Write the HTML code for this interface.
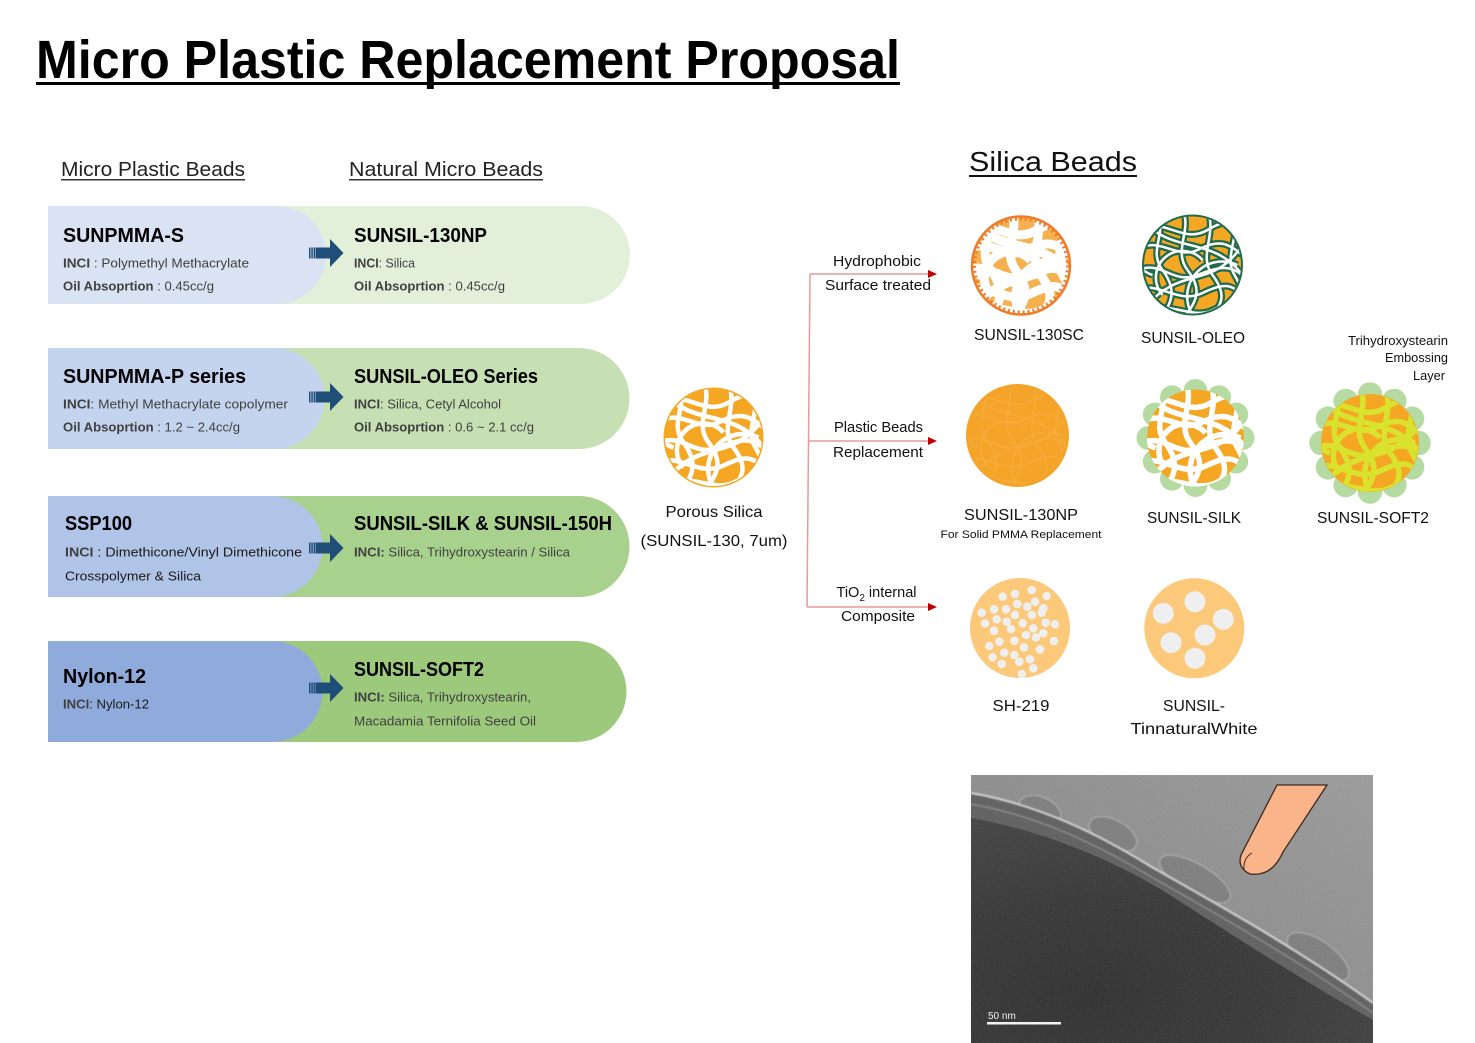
<!DOCTYPE html>
<html><head><meta charset="utf-8">
<style>
html,body{margin:0;padding:0;background:#fff;}
svg{display:block;}
text{font-family:"Liberation Sans",sans-serif;}
</style></head>
<body>
<svg width="1475" height="1043" viewBox="0 0 1475 1043" xmlns="http://www.w3.org/2000/svg">
<defs>
  <g id="net">
    <path d="M-55,-35 C-30,-50 -10,-20 15,-35 S45,-40 55,-25"/>
    <path d="M-55,-15 C-35,-30 -15,-5 5,-15 S35,-25 55,-5"/>
    <path d="M-55,5 C-30,-5 -20,20 5,10 S40,0 55,15"/>
    <path d="M-55,25 C-35,15 -15,40 10,28 S40,20 55,35"/>
    <path d="M-50,45 C-25,35 0,55 20,45 S45,40 55,50"/>
    <path d="M-35,-55 C-25,-30 -45,-15 -30,5 S-20,40 -35,55"/>
    <path d="M-10,-55 C0,-35 -20,-15 -5,5 S5,35 -10,55"/>
    <path d="M15,-55 C25,-30 5,-10 20,10 S30,40 15,55"/>
    <path d="M40,-55 C50,-30 30,-10 42,10 S50,40 38,55"/>
    <path d="M-50,-45 C-20,-10 20,-30 50,10"/>
    <path d="M-45,40 C-10,0 20,25 50,-20"/>
    <path d="M-20,-50 A30,30 0 0 0 -40,10"/>
    <path d="M0,50 A35,35 0 0 1 45,0"/>
    <path d="M-30,30 A22,22 0 0 1 10,-5"/>
  </g>
  <clipPath id="cc"><circle cx="0" cy="0" r="48.5"/></clipPath>
  <g id="arr" fill="#1f4e79">
    <rect x="0" y="-5.5" width="1.5" height="11"/>
    <rect x="2.3" y="-5.5" width="1.5" height="11"/>
    <rect x="4.6" y="-5.5" width="1.5" height="11"/>
    <rect x="6.6" y="-5.5" width="14.5" height="11"/>
    <polygon points="21,-14 34.5,0 21,14"/>
  </g>
  <g id="bumps" fill="#b5dba2">
    <circle cx="47" cy="0" r="12"/><circle cx="40.7" cy="23.5" r="12"/><circle cx="23.5" cy="40.7" r="12"/>
    <circle cx="0" cy="47" r="12"/><circle cx="-23.5" cy="40.7" r="12"/><circle cx="-40.7" cy="23.5" r="12"/>
    <circle cx="-47" cy="0" r="12"/><circle cx="-40.7" cy="-23.5" r="12"/><circle cx="-23.5" cy="-40.7" r="12"/>
    <circle cx="0" cy="-47" r="12"/><circle cx="23.5" cy="-40.7" r="12"/><circle cx="40.7" cy="-23.5" r="12"/>
  </g>
  <linearGradient id="temBg" x1="1" y1="0" x2="0" y2="1">
    <stop offset="0" stop-color="#939393"/><stop offset="1" stop-color="#777"/>
  </linearGradient>
  <radialGradient id="temDark" cx="0.3" cy="0.8" r="0.8">
    <stop offset="0" stop-color="#232323"/><stop offset="0.6" stop-color="#2c2c2c"/><stop offset="1" stop-color="#363636"/>
  </radialGradient>
  <filter id="noise" x="0" y="0" width="1" height="1">
    <feTurbulence type="fractalNoise" baseFrequency="0.9" numOctaves="1" result="n"/>
    <feColorMatrix type="matrix" values="0 0 0 0 1  0 0 0 0 1  0 0 0 0 1  0 0 0 0.18 0"/>
  </filter>
  <filter id="soft"><feGaussianBlur stdDeviation="0.8"/></filter>
  <clipPath id="temClip"><rect x="971" y="775" width="402" height="268"/></clipPath>
</defs>

<!-- Title -->
<text x="36" y="78" font-size="54" font-weight="bold" textLength="864" lengthAdjust="spacingAndGlyphs">Micro Plastic Replacement Proposal</text>
<rect x="36" y="82" width="864" height="3" fill="#000"/>

<!-- column headers -->
<text x="61" y="176" font-size="20" fill="#222" textLength="184" lengthAdjust="spacingAndGlyphs">Micro Plastic Beads</text>
<rect x="61" y="179" width="184" height="1.5" fill="#333"/>
<text x="349" y="176" font-size="20" fill="#222" textLength="194" lengthAdjust="spacingAndGlyphs">Natural Micro Beads</text>
<rect x="349" y="179" width="194" height="1.5" fill="#333"/>
<text x="969" y="171" font-size="28" fill="#111" textLength="168" lengthAdjust="spacingAndGlyphs">Silica Beads</text>
<rect x="969" y="175" width="168" height="2" fill="#111"/>

<!-- Row 1 -->
<path d="M270,206 H581 A49,49 0 0 1 581,304 H270 Z" fill="#e2f0d9"/>
<path d="M48,206 H277 A49,49 0 0 1 277,304 H48 Z" fill="#dae3f3"/>
<use href="#arr" x="309" y="253"/>
<text x="63" y="242" font-size="20" font-weight="bold" textLength="121" lengthAdjust="spacingAndGlyphs">SUNPMMA-S</text>
<text x="63" y="267.5" font-size="13" fill="#404040" textLength="186" lengthAdjust="spacingAndGlyphs"><tspan font-weight="bold">INCI</tspan> : Polymethyl Methacrylate</text>
<text x="63" y="290.5" font-size="13" fill="#404040" textLength="151" lengthAdjust="spacingAndGlyphs"><tspan font-weight="bold">Oil Absoprtion</tspan> : 0.45cc/g</text>
<text x="354" y="242" font-size="20" font-weight="bold" textLength="133" lengthAdjust="spacingAndGlyphs">SUNSIL-130NP</text>
<text x="354" y="267.5" font-size="13" fill="#404040" textLength="61" lengthAdjust="spacingAndGlyphs"><tspan font-weight="bold">INCI</tspan>: Silica</text>
<text x="354" y="290.5" font-size="13" fill="#404040" textLength="151" lengthAdjust="spacingAndGlyphs"><tspan font-weight="bold">Oil Absoprtion</tspan> : 0.45cc/g</text>

<!-- Row 2 -->
<path d="M270,348 H579 A50.5,50.5 0 0 1 579,449 H270 Z" fill="#c6e0b4"/>
<path d="M48,348 H274 A50.5,50.5 0 0 1 274,449 H48 Z" fill="#c5d4ee"/>
<use href="#arr" x="309" y="397"/>
<text x="63" y="383" font-size="20" font-weight="bold" textLength="183" lengthAdjust="spacingAndGlyphs">SUNPMMA-P series</text>
<text x="63" y="408.5" font-size="13" fill="#404040" textLength="225" lengthAdjust="spacingAndGlyphs"><tspan font-weight="bold">INCI</tspan>: Methyl Methacrylate copolymer</text>
<text x="63" y="431.5" font-size="13" fill="#404040" textLength="177" lengthAdjust="spacingAndGlyphs"><tspan font-weight="bold">Oil Absoprtion</tspan> : 1.2 ~ 2.4cc/g</text>
<text x="354" y="383" font-size="20" font-weight="bold" textLength="184" lengthAdjust="spacingAndGlyphs">SUNSIL-OLEO Series</text>
<text x="354" y="408.5" font-size="13" fill="#404040" textLength="147" lengthAdjust="spacingAndGlyphs"><tspan font-weight="bold">INCI</tspan>: Silica, Cetyl Alcohol</text>
<text x="354" y="431.5" font-size="13" fill="#404040" textLength="180" lengthAdjust="spacingAndGlyphs"><tspan font-weight="bold">Oil Absoprtion</tspan> : 0.6 ~ 2.1 cc/g</text>

<!-- Row 3 -->
<path d="M270,496 H579 A50.5,50.5 0 0 1 579,597 H270 Z" fill="#a9d18e"/>
<path d="M48,496 H272 A50.5,50.5 0 0 1 272,597 H48 Z" fill="#b0c4e8"/>
<use href="#arr" x="309" y="548"/>
<text x="65" y="530" font-size="20" font-weight="bold" textLength="67" lengthAdjust="spacingAndGlyphs">SSP100</text>
<text x="65" y="556.5" font-size="13" fill="#1a1a1a" textLength="237" lengthAdjust="spacingAndGlyphs"><tspan font-weight="bold" fill="#404040">INCI</tspan> : Dimethicone/Vinyl Dimethicone</text>
<text x="65" y="580.5" font-size="13" fill="#1a1a1a" textLength="136" lengthAdjust="spacingAndGlyphs">Crosspolymer &amp; Silica</text>
<text x="354" y="530" font-size="20" font-weight="bold" textLength="258" lengthAdjust="spacingAndGlyphs">SUNSIL-SILK &amp; SUNSIL-150H</text>
<text x="354" y="556.5" font-size="13" fill="#404040" textLength="216" lengthAdjust="spacingAndGlyphs"><tspan font-weight="bold">INCI:</tspan> Silica, Trihydroxystearin / Silica</text>

<!-- Row 4 -->
<path d="M270,641 H576 A50.5,50.5 0 0 1 576,742 H270 Z" fill="#9cc97c"/>
<path d="M48,641 H272 A50.5,50.5 0 0 1 272,742 H48 Z" fill="#8fabdc"/>
<use href="#arr" x="309" y="688"/>
<text x="63" y="683" font-size="20" font-weight="bold" textLength="83" lengthAdjust="spacingAndGlyphs">Nylon-12</text>
<text x="63" y="708.5" font-size="13" fill="#1a1a1a" textLength="86" lengthAdjust="spacingAndGlyphs"><tspan font-weight="bold" fill="#404040">INCI</tspan>: Nylon-12</text>
<text x="354" y="676" font-size="20" font-weight="bold" textLength="130" lengthAdjust="spacingAndGlyphs">SUNSIL-SOFT2</text>
<text x="354" y="701.5" font-size="13" fill="#404040" textLength="177" lengthAdjust="spacingAndGlyphs"><tspan font-weight="bold">INCI:</tspan> Silica, Trihydroxystearin,</text>
<text x="354" y="725.5" font-size="13" fill="#404040" textLength="182" lengthAdjust="spacingAndGlyphs">Macadamia Ternifolia Seed Oil</text>

<!-- Porous silica -->
<g transform="translate(713.5,437.5)">
  <circle r="50" fill="#f5a623"/>
  <g clip-path="url(#cc)"><use href="#net" stroke="#fff" stroke-width="4.5" fill="none"/></g>
</g>
<text x="714" y="517" font-size="16" text-anchor="middle" fill="#111" textLength="97" lengthAdjust="spacingAndGlyphs">Porous Silica</text>
<text x="714" y="546" font-size="16" text-anchor="middle" fill="#111" textLength="147" lengthAdjust="spacingAndGlyphs">(SUNSIL-130, 7um)</text>

<!-- connectors -->
<g stroke="#e89a9a" stroke-width="1.5" fill="none">
  <path d="M810,274 L807,607"/>
  <path d="M810,274 H929"/>
  <path d="M809,441 H929"/>
  <path d="M807,607 H929"/>
</g>
<g fill="#c00000">
  <polygon points="928,270 937,274 928,278"/>
  <polygon points="928,437 937,441 928,445"/>
  <polygon points="928,603 937,607 928,611"/>
</g>
<g font-size="14.5" fill="#111" text-anchor="middle">
  <text x="877" y="266" textLength="88" lengthAdjust="spacingAndGlyphs">Hydrophobic</text>
  <text x="878" y="290" textLength="106" lengthAdjust="spacingAndGlyphs">Surface treated</text>
  <text x="878.5" y="432" textLength="89" lengthAdjust="spacingAndGlyphs">Plastic Beads</text>
  <text x="878" y="457" textLength="90" lengthAdjust="spacingAndGlyphs">Replacement</text>
  <text x="876.5" y="597">TiO<tspan font-size="10" dy="4">2</tspan><tspan dy="-4"> internal</tspan></text>
  <text x="878" y="621" textLength="74" lengthAdjust="spacingAndGlyphs">Composite</text>
</g>

<!-- SUNSIL-130SC -->
<g transform="translate(1021,265.5)">
  <circle r="50" fill="#f7b04e"/>
  <g clip-path="url(#cc)"><use href="#net" stroke="#fff" stroke-width="9" fill="none"/></g>
  <circle r="47" fill="none" stroke="#f07c2a" stroke-width="4" stroke-dasharray="2 3"/>
  <circle r="49" fill="none" stroke="#f07c2a" stroke-width="2.5"/>
</g>
<text x="1029" y="340" font-size="16" text-anchor="middle" fill="#111" textLength="110" lengthAdjust="spacingAndGlyphs">SUNSIL-130SC</text>

<!-- SUNSIL-OLEO -->
<g transform="translate(1192.5,265)">
  <circle r="50.5" fill="#1f6b4c"/>
  <circle r="48.5" fill="#f5a623"/>
  <g clip-path="url(#cc)">
    <use href="#net" stroke="#1f6b4c" stroke-width="7" fill="none"/>
    <use href="#net" stroke="#fff" stroke-width="2.5" fill="none"/>
  </g>
</g>
<text x="1193" y="343" font-size="16" text-anchor="middle" fill="#111" textLength="104" lengthAdjust="spacingAndGlyphs">SUNSIL-OLEO</text>

<!-- Trihydroxystearin label -->
<g font-size="12.5" fill="#111" text-anchor="end">
  <text x="1448" y="345" textLength="100" lengthAdjust="spacingAndGlyphs">Trihydroxystearin</text>
  <text x="1448" y="362" textLength="63" lengthAdjust="spacingAndGlyphs">Embossing</text>
  <text x="1445" y="380" textLength="32" lengthAdjust="spacingAndGlyphs">Layer</text>
</g>

<!-- SUNSIL-130NP -->
<g transform="translate(1017.5,435.5)">
  <circle r="51.5" fill="#f5a42a"/>
  <g clip-path="url(#cc)" opacity="0.25"><use href="#net" stroke="#fbd08a" stroke-width="1" fill="none"/></g>
</g>
<text x="1021" y="520" font-size="16" text-anchor="middle" fill="#111" textLength="114" lengthAdjust="spacingAndGlyphs">SUNSIL-130NP</text>
<text x="1021" y="538" font-size="11" text-anchor="middle" fill="#111" textLength="161" lengthAdjust="spacingAndGlyphs">For Solid PMMA Replacement</text>

<!-- SUNSIL-SILK -->
<g transform="translate(1195.5,438)">
  <use href="#bumps"/>
  <circle r="48.5" fill="#f5a623"/>
  <g clip-path="url(#cc)"><use href="#net" stroke="#fff" stroke-width="5.5" fill="none"/></g>
</g>
<text x="1194" y="523" font-size="16" text-anchor="middle" fill="#111" textLength="94" lengthAdjust="spacingAndGlyphs">SUNSIL-SILK</text>

<!-- SUNSIL-SOFT2 -->
<g transform="translate(1370,443)">
  <g transform="scale(1.03)"><use href="#bumps"/></g>
  <circle r="49" fill="#f5a623"/>
  <g clip-path="url(#cc)"><use href="#net" stroke="#d9e22d" stroke-width="5.5" fill="none"/></g>
</g>
<text x="1373" y="523" font-size="16" text-anchor="middle" fill="#111" textLength="112" lengthAdjust="spacingAndGlyphs">SUNSIL-SOFT2</text>

<!-- SH-219 -->
<circle cx="1020" cy="628" r="50" fill="#fcc87a"/>
<g fill="#efefef">
  <circle cx="1002.7" cy="596.7" r="4.3"/><circle cx="1015" cy="594" r="4.3"/><circle cx="1031.7" cy="590" r="4.3"/><circle cx="1046.7" cy="596" r="4.3"/>
  <circle cx="994" cy="609.3" r="4.3"/><circle cx="1006" cy="609.3" r="4.3"/><circle cx="1017.3" cy="604" r="4.3"/><circle cx="1027.3" cy="606.7" r="4.3"/>
  <circle cx="1035" cy="601.7" r="4.3"/><circle cx="1043.3" cy="608.3" r="4.3"/><circle cx="981.7" cy="612.7" r="4.3"/><circle cx="996.7" cy="619.3" r="4.3"/>
  <circle cx="1006.7" cy="621.7" r="4.3"/><circle cx="1015" cy="615" r="4.3"/><circle cx="1022.7" cy="623.3" r="4.3"/><circle cx="1031.7" cy="615" r="4.3"/>
  <circle cx="1041.7" cy="612.7" r="4.3"/><circle cx="985" cy="623.3" r="4.3"/><circle cx="994" cy="630.7" r="4.3"/><circle cx="1011" cy="629" r="4.3"/>
  <circle cx="1033.3" cy="628.3" r="4.3"/><circle cx="1045.7" cy="622.7" r="4.3"/><circle cx="1055" cy="624.3" r="4.3"/><circle cx="999.3" cy="641.7" r="4.3"/>
  <circle cx="1014.3" cy="640.7" r="4.3"/><circle cx="1026" cy="635" r="4.3"/><circle cx="1036" cy="637.3" r="4.3"/><circle cx="1043.3" cy="633.3" r="4.3"/>
  <circle cx="1054" cy="641" r="4.3"/><circle cx="989.3" cy="646" r="4.3"/><circle cx="1004.3" cy="652.7" r="4.3"/><circle cx="1014.3" cy="655" r="4.3"/>
  <circle cx="1024" cy="647.3" r="4.3"/><circle cx="1040" cy="649.3" r="4.3"/><circle cx="992.7" cy="657.3" r="4.3"/><circle cx="1001.7" cy="664" r="4.3"/>
  <circle cx="1019.3" cy="661.7" r="4.3"/><circle cx="1030" cy="659.3" r="4.3"/><circle cx="1033.3" cy="668.3" r="4.3"/><circle cx="1021.7" cy="674" r="4.3"/>
</g>
<text x="1021" y="711" font-size="16" text-anchor="middle" fill="#111" textLength="57" lengthAdjust="spacingAndGlyphs">SH-219</text>

<!-- SUNSIL-TinnaturalWhite -->
<circle cx="1194.3" cy="628.3" r="50" fill="#fcc87a"/>
<g fill="#efefef">
  <circle cx="1163.3" cy="613.3" r="10.5"/><circle cx="1195" cy="601.7" r="10.5"/><circle cx="1223.3" cy="619.3" r="10.5"/>
  <circle cx="1205" cy="635" r="10.5"/><circle cx="1171" cy="642.7" r="10.5"/><circle cx="1195" cy="658.3" r="10.5"/>
</g>
<text x="1194" y="711" font-size="16" text-anchor="middle" fill="#111" textLength="62" lengthAdjust="spacingAndGlyphs">SUNSIL-</text>
<text x="1194" y="734" font-size="16" text-anchor="middle" fill="#111" textLength="127" lengthAdjust="spacingAndGlyphs">TinnaturalWhite</text>

<!-- TEM image -->
<g clip-path="url(#temClip)">
  <rect x="971" y="775" width="402" height="268" fill="url(#temBg)"/>
  <g fill="#757575" stroke="#a8a8a8" stroke-width="1.1" filter="url(#soft)">
    <ellipse cx="1040" cy="810" rx="22" ry="13" transform="rotate(22 1040 810)"/>
    <ellipse cx="1113" cy="834" rx="26" ry="14" transform="rotate(28 1113 834)"/>
    <ellipse cx="1195" cy="879" rx="40" ry="15" transform="rotate(30 1195 879)"/>
    <ellipse cx="1318" cy="957" rx="36" ry="16" transform="rotate(35 1318 957)"/>
  </g>
  <path d="M971,793 C1040,805 1100,835 1150,866 C1210,900 1300,950 1373,1003 L1373,1043 L971,1043 Z" fill="#555"/>
  <path d="M971,793 C1040,805 1100,835 1150,866 C1210,900 1300,950 1373,1003" fill="none" stroke="#d0d0d0" stroke-width="2" filter="url(#soft)"/>
  <path d="M971,804 C1040,816 1100,846 1155,879 C1215,913 1300,961 1373,1013" fill="none" stroke="#8a8a8a" stroke-width="1.2" filter="url(#soft)"/>
  <path d="M971,818 C1040,830 1110,858 1170,895 C1240,940 1310,985 1373,1020 L1373,1043 L971,1043 Z" fill="url(#temDark)"/>
  <rect x="971" y="775" width="402" height="268" filter="url(#noise)"/>
  <path d="M1277,785 L1327,785 L1283,852 Q1272,877 1250,874 Q1237,868 1241,855 Z" fill="#f9b48a" stroke="#3a2a20" stroke-width="1.3"/>
  <path d="M1252,853 Q1243,858 1244,870" fill="none" stroke="#3a2a20" stroke-width="1"/>
  <rect x="987" y="1022" width="74" height="2.5" fill="#f2f2f2"/>
  <text x="988" y="1019" font-size="10" fill="#f2f2f2">50  nm</text>
</g>
</svg>
</body></html>
